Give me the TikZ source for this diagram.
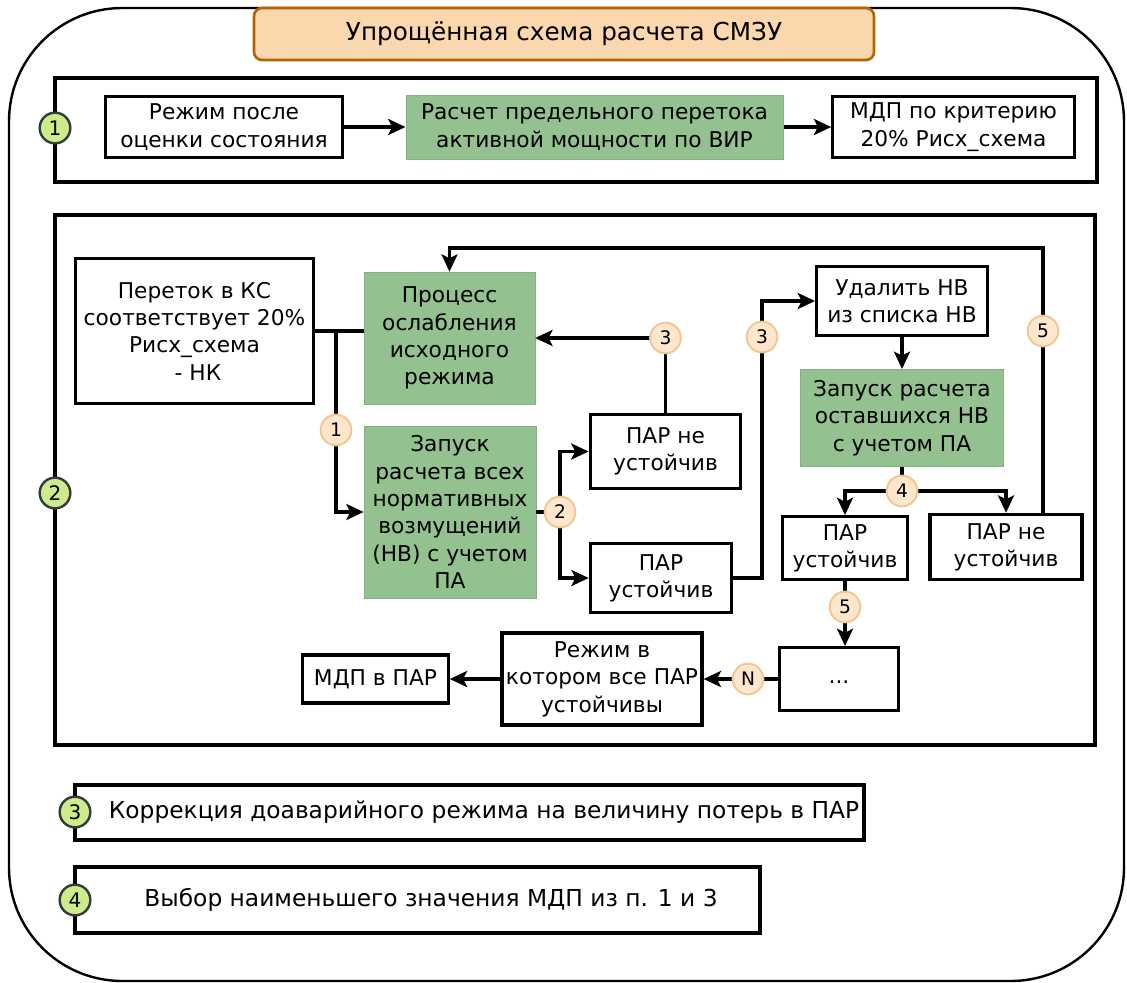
\documentclass[tikz,border=0pt]{standalone}
\usepackage{fontspec}
\setmainfont{DejaVu Sans}
\usepackage{xcolor}
\usetikzlibrary{arrows.meta}

\definecolor{boxgreen}{RGB}{148,193,144}
\definecolor{titlefill}{RGB}{250,215,172}
\definecolor{titleline}{RGB}{180,101,4}
\definecolor{markfill}{RGB}{255,230,204}
\definecolor{markline}{RGB}{240,200,150}
\definecolor{stepfill}{RGB}{205,235,139}
\definecolor{stepline}{RGB}{54,57,61}

\begin{document}
\begin{tikzpicture}[x=0.75pt,y=0.75pt,yscale=-1,xscale=1,
  every node/.style={font=\fontsize{16.3pt}{20.5pt}\selectfont, align=center, inner sep=0pt},
  plain/.style={draw, line width=2.4pt, fill=white},
  calc/.style={fill=boxgreen, draw=boxgreen!90!black, line width=0.5pt},
  frame/.style={draw, line width=2.4pt},
  arr/.style={line width=2.6pt, -{Stealth[length=13pt,width=12pt,inset=3pt]}},
  lnk/.style={line width=2.6pt},
  markcirc/.style={circle, fill=markfill, draw=markline, line width=1.5pt, minimum size=23pt, font=\fontsize{14pt}{16pt}\selectfont},
  stepno/.style={circle, fill=stepfill, draw=stepline, line width=1.8pt, minimum size=23pt, font=\fontsize{15pt}{17pt}\selectfont},
  note/.style={font=\fontsize{17.5pt}{21pt}\selectfont}]

\useasboundingbox (0,0) rectangle (1127,982);

\draw [line width=1.8pt, rounded corners=85pt] (9,8) rectangle (1124,981);

\node [draw=titleline, fill=titlefill, line width=2pt, rounded corners=6pt, minimum width=465pt, minimum height=39pt, font=\fontsize{18.5pt}{22pt}\selectfont] (title) at (564,34) {Упрощённая схема расчета СМЗУ};

\draw [frame] (55,78) rectangle (1097,182);

\draw [frame] (55,215) rectangle (1095,745);

\draw [frame] (75,785) rectangle (864,840);

\draw [frame] (75,867) rectangle (760,933);


\node [plain, minimum width=178pt, minimum height=46pt] (rej) at (224,127) {Режим после\\оценки состояния};

\node [calc, minimum width=283pt, minimum height=48pt] (rasch) at (594.5,127) {Расчет предельного перетока\\активной мощности по ВИР};

\node [plain, minimum width=181pt, minimum height=46pt] (mdpkr) at (953.5,127) {МДП по критерию\\20\% Рисх\_схема};

\draw [arr] (rej.east) -- (rasch.west);

\draw [arr] (rasch.east) -- (mdpkr.west);


\node [plain, minimum width=179pt, minimum height=109pt] (peretok) at (194.5,331) {Переток в КС\\соответствует 20\%\\Рисх\_схема\\\ - НК};

\node [calc, minimum width=128pt, minimum height=99pt] (proc) at (449.5,338) {Процесс\\ослабления\\исходного\\режима};

\node [calc, minimum width=129pt, minimum height=129pt] (zapall) at (450,512) {Запуск\\расчета всех\\нормативных\\возмущений\\(НВ) с учетом\\ПА};

\node [plain, minimum width=113pt, minimum height=55pt] (parne) at (665.5,451.5) {ПАР не\\устойчив};

\node [plain, minimum width=106pt, minimum height=52pt] (paru) at (661,578) {ПАР\\устойчив};

\node [plain, minimum width=128pt, minimum height=52pt] (udal) at (902,301) {Удалить НВ\\из списка НВ};

\node [calc, minimum width=152pt, minimum height=73pt] (zapost) at (902,418) {Запуск расчета\\оставшихся НВ\\с учетом ПА};

\node [plain, minimum width=94pt, minimum height=47pt] (parutwo) at (845,548) {ПАР\\устойчив};

\node [plain, minimum width=114pt, minimum height=49pt] (parnetwo) at (1006,547) {ПАР не\\устойчив};

\node [plain, minimum width=89pt, minimum height=47pt] (dots) at (839,679) {\raisebox{-7pt}{...}};

\node [plain, minimum width=150pt, minimum height=69pt] (rejall) at (602,679) {Режим в\\котором все ПАР\\устойчивы};

\node [plain, minimum width=109pt, minimum height=36pt] (mdppar) at (375.5,679) {МДП в ПАР};


\coordinate (brone) at (336,331);
\coordinate (brtwo) at (560,512);
\coordinate (brthree) at (762,301);
\coordinate (brfour) at (902,491);
\coordinate (backup) at (1043,514);
\coordinate (backtop) at (1043,248);

\draw [lnk] (peretok.east |- brone) -- (proc.west |- brone);

\draw [arr] (brone) |- (zapall.west);

\draw [lnk] (zapall.east) -- (brtwo);

\draw [arr] (brtwo) |- (parne.west);

\draw [arr] (brtwo) |- (paru.west);

\draw [arr] (parne.north) |- (proc.east);

\draw [arr] (paru.east) -| (brthree) -- (udal.west);

\draw [arr] (udal.south) -- (zapost.north);

\draw [lnk] (zapost.south) -- (brfour);

\draw [arr] (brfour) -| (parutwo.north);

\draw [arr] (brfour) -| (parnetwo.north);

\draw [arr] (backup) -- (backtop) -| (proc.north);

\draw [arr] (parutwo.south) -- (parutwo.south |- dots.north);

\draw [arr] (dots.west) -- (rejall.east);

\draw [arr] (rejall.west) -- (mdppar.east);


\node [markcirc] (mone) at (336,430) {1};
\node [markcirc] (mtwo) at (brtwo) {2};
\node [markcirc] (mthreea) at (parne.north |- proc.east) {3};
\node [markcirc] (mthreeb) at (762,337) {3};
\node [markcirc] (mfour) at (brfour) {4};
\node [markcirc] (mfivea) at (1043,331) {5};
\node [markcirc] (mfiveb) at (parutwo.south |- 0,607) {5};
\node [markcirc] (mn) at (748,679) {N};


\node [stepno] (sone) at (55,128) {1};
\node [stepno] (stwo) at (55,493) {2};
\node [stepno] (sthree) at (75,812) {3};
\node [stepno] (sfour) at (75,900) {4};

\node [note] (corr) at (484,812) {Коррекция доаварийного режима на величину потерь в ПАР};

\node [note] (choice) at (431,900) {Выбор наименьшего значения МДП из п. 1 и 3};

\end{tikzpicture}
\end{document}
